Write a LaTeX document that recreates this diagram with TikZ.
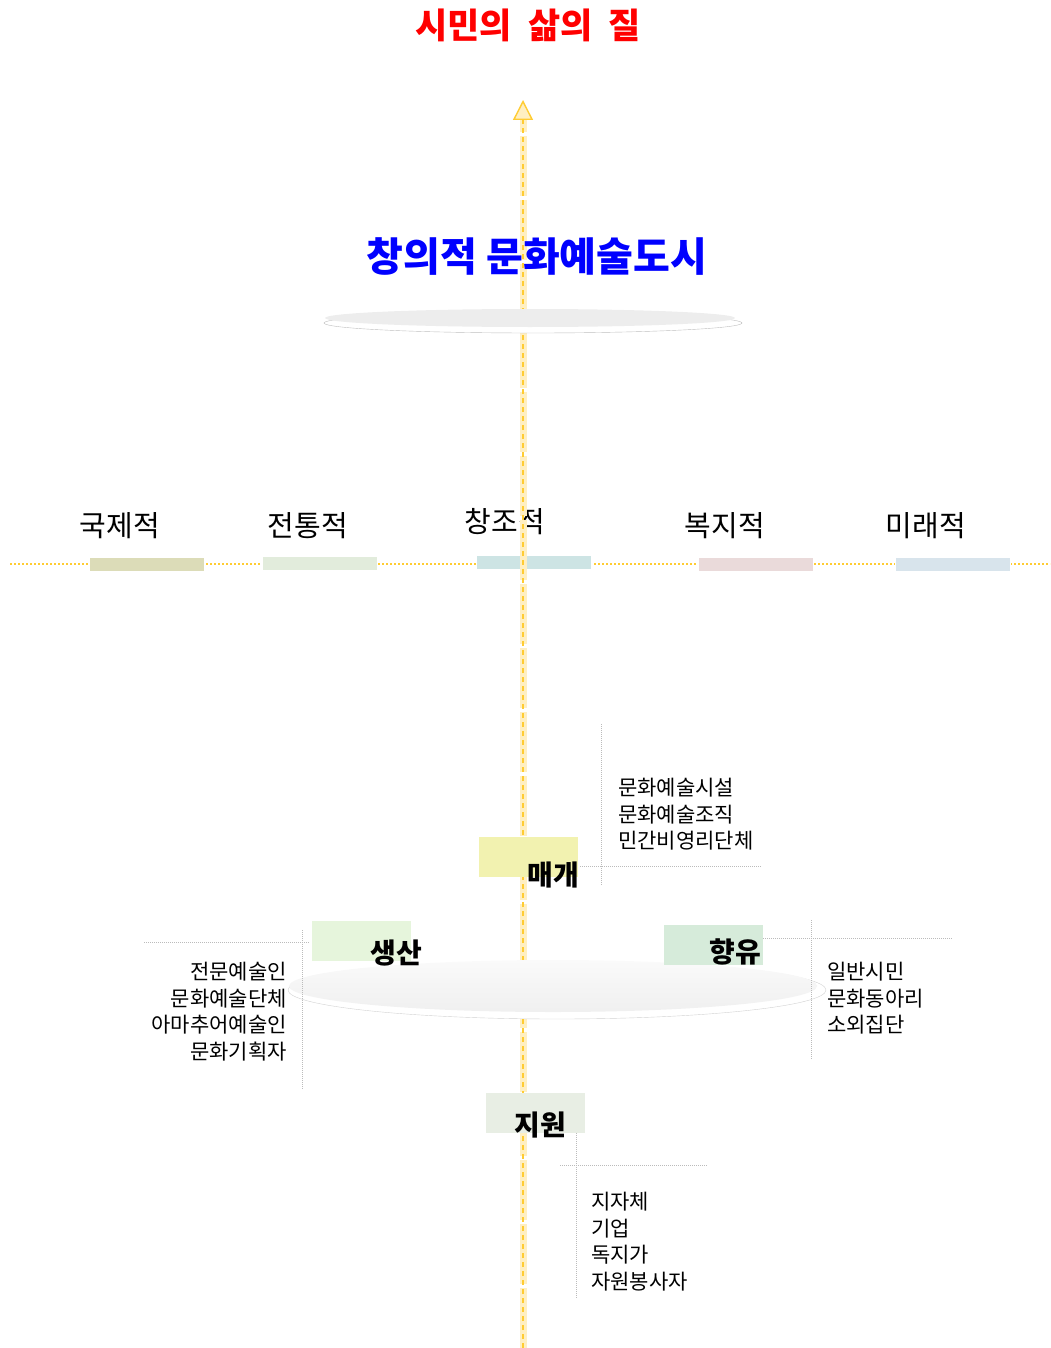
\documentclass[tikz,border=0pt]{standalone}
\usepackage{fontspec}
\setmainfont{Noto Sans CJK KR}
\newfontfamily\kr{Noto Sans CJK KR}
\usetikzlibrary{arrows.meta,shapes.geometric}
\definecolor{gold}{HTML}{FFCC33}
\definecolor{paleband}{HTML}{FFEFC2}
\definecolor{guide}{HTML}{BBBBBB}
\definecolor{barA}{HTML}{DCDCB8}
\definecolor{barB}{HTML}{E2ECDC}
\definecolor{barC}{HTML}{CDE4E4}
\definecolor{barD}{HTML}{EADADA}
\definecolor{barE}{HTML}{D8E4EC}
\definecolor{boxM}{HTML}{F2F2B0}
\definecolor{boxS}{HTML}{E6F5DC}
\definecolor{boxH}{HTML}{D6EBDA}
\definecolor{boxJ}{HTML}{E8EEE4}
\tikzset{
  bar/.style={draw=white, line width=0.6pt, minimum width=115pt, minimum height=14pt, inner sep=0pt},
  rolebox/.style={minimum width=99pt, minimum height=40pt, inner sep=0pt},
  axislabel/.style={font=\kr\fontsize{29}{32}\selectfont, inner sep=0pt, anchor=center},
  rolelabel/.style={font=\kr\bfseries\fontsize{28}{32}\selectfont, inner sep=0pt},
  smalltext/.style={font=\kr\fontsize{21}{26.5}\selectfont, inner sep=0pt, align=left},
  guideline/.style={draw=guide, line width=0.6pt, dash pattern=on 1pt off 1pt},
  hdotted/.style={draw=gold, line width=1.2pt, dash pattern=on 2pt off 2pt},
}
\begin{document}
\begin{tikzpicture}[x=1pt,y=-1pt]
\useasboundingbox (0,0) rectangle (1051,1348);

% title
\node[font=\kr\bfseries\fontsize{35}{38}\selectfont, text=red, inner sep=0pt] (title) at (528,25) {시민의\ \ 삶의\ \ 질};

% horizontal dotted axis
\coordinate (hl) at (10,564);
\coordinate (hr) at (1050,564);
\draw[hdotted] (hl) -- (hr);

% bars
\node[bar, fill=barA] (bA) at (146.5,564) {};
\node[bar, fill=barB] (bB) at (320,563) {};
\node[bar, fill=barC] (bC) at (534,562) {};
\node[bar, fill=barD] (bD) at (755.5,564) {};
\node[bar, fill=barE] (bE) at (953,564) {};

% bar labels
\node[axislabel] (lA) at (120,526) {국제적};
\node[axislabel] (lB) at (308,526) {전통적};
\node[axislabel] (lC) at (505,522) {창조적};
\node[axislabel] (lD) at (725,526) {복지적};
\node[axislabel] (lE) at (926,526) {미래적};

% vertical arrow
\coordinate (vb) at (523,1348);
\coordinate (vt) at (523,100);
\draw[paleband, line width=7pt, dash pattern=on 60pt off 4pt] (vb) -- (523,118);
\draw[gold, line width=1.6pt, dash pattern=on 5pt off 4pt,
  -{Triangle[open, length=20pt, width=20pt, line width=1.4pt, fill=paleband]}] (vb) -- (vt);

% blue heading
\node[font=\kr\bfseries\fontsize{40}{44}\selectfont, text=blue, inner sep=0pt] (city) at (537,257) {창의적\ 문화예술도시};

% top disk
\node[ellipse, draw=gray!50, fill=white, minimum width=418pt, minimum height=20pt, inner sep=0pt] (disk1b) at (533,323) {};
\node[ellipse, fill=black!7, minimum width=410pt, minimum height=18pt, inner sep=0pt] (disk1) at (530,318) {};

% bottom disk
\node[ellipse, draw=gray!35, fill=white, minimum width=538pt, minimum height=58pt, inner sep=0pt] (disk2b) at (557,990) {};
\node[ellipse, top color=black!2, bottom color=black!6, minimum width=528pt, minimum height=52pt, inner sep=0pt] (disk2) at (553,986) {};

% 매개
\node[rolebox, fill=boxM] (mB) at (528.5,857) {};
\node[rolelabel, anchor=center] (mL) at (553,875) {매개};
\coordinate (mv1) at (601,724);
\coordinate (mv2) at (601,885);
\coordinate (mh1) at (580,866);
\coordinate (mh2) at (762,866);
\draw[guideline] (mv1) -- (mv2);
\draw[guideline] (mh1) -- (mh2);
\node[smalltext, anchor=north west] (mT) at (618,778) {문화예술시설\\문화예술조직\\민간비영리단체};

% 생산
\node[rolebox, fill=boxS] (sB) at (361.5,940.5) {};
\node[rolelabel] (sL) at (396,953) {생산};
\coordinate (sh1) at (144,942);
\coordinate (sh2) at (310,942);
\coordinate (sv1) at (302,930);
\coordinate (sv2) at (302,1090);
\draw[guideline] (sh1) -- (sh2);
\draw[guideline] (sv1) -- (sv2);
\node[smalltext, align=right, anchor=north east] (sT) at (287,962) {전문예술인\\문화예술단체\\아마추어예술인\\문화기획자};

% 향유
\node[rolebox, fill=boxH] (hB) at (713.5,944.5) {};
\node[rolelabel] (hL) at (735,952) {향유};
\coordinate (hh1) at (763,938);
\coordinate (hh2) at (952,938);
\coordinate (hv1) at (811,920);
\coordinate (hv2) at (811,1060);
\draw[guideline] (hh1) -- (hh2);
\draw[guideline] (hv1) -- (hv2);
\node[smalltext, anchor=north west] (hT) at (827,962) {일반시민\\문화동아리\\소외집단};

% 지원
\node[rolebox, fill=boxJ] (jB) at (535.5,1112.5) {};
\node[rolelabel] (jL) at (540,1125) {지원};
\coordinate (jv1) at (576,1133);
\coordinate (jv2) at (576,1298);
\coordinate (jh1) at (560,1165);
\coordinate (jh2) at (708,1165);
\draw[guideline] (jv1) -- (jv2);
\draw[guideline] (jh1) -- (jh2);
\node[smalltext, anchor=north west] (jT) at (591,1192) {지자체\\기업\\독지가\\자원봉사자};
\end{tikzpicture}
\end{document}
